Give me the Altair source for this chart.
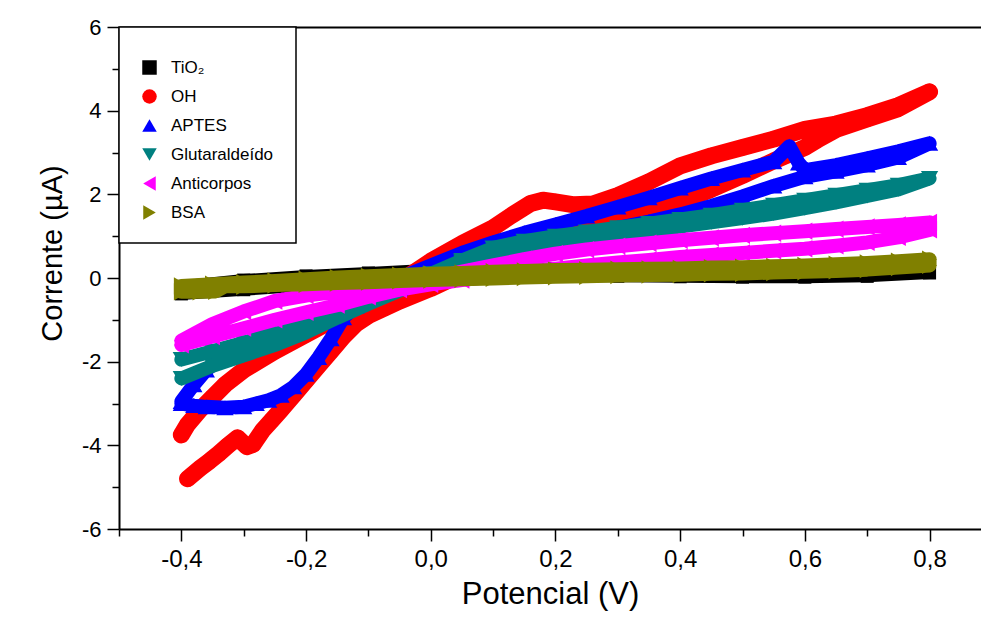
import altair as alt
import pandas as pd

FONT = "Liberation Sans"

series_names = ["TiO₂", "OH", "APTES", "Glutaraldeído", "Anticorpos", "BSA"]
series_colors = ["#000000", "#ff0000", "#0000ff", "#008080", "#ff00ff", "#808000"]
series_shapes = ["square", "circle", "triangle-up", "triangle-down", "triangle-left", "triangle-right"]

# ---- TiO2 (black squares) ----
tio2_x = [-0.4, -0.3, -0.2, -0.1, 0.0, 0.1, 0.2, 0.3, 0.4, 0.5, 0.6, 0.7, 0.8,
          0.7, 0.6, 0.5, 0.4, 0.3, 0.2, 0.1, 0.0, -0.1, -0.2, -0.3, -0.4]
tio2_y = [-0.38, -0.28, -0.18, -0.08, 0.0, 0.03, 0.04, 0.04, 0.03, 0.02, 0.02, 0.04, 0.12,
          0.16, 0.17, 0.18, 0.19, 0.2, 0.22, 0.23, 0.2, 0.12, 0.05, -0.05, -0.2]

# ---- OH (red circles) ----
oh_x = [-0.4, -0.39, -0.37, -0.35, -0.33, -0.3, -0.25, -0.2, -0.15, -0.1, -0.05, 0.0, 0.05, 0.1,
        0.13, 0.16, 0.18, 0.2, 0.23, 0.26, 0.3, 0.35, 0.4, 0.45, 0.5, 0.55, 0.6, 0.65, 0.7, 0.75, 0.8,
        0.75, 0.7, 0.65, 0.62, 0.6, 0.55, 0.5, 0.45, 0.4, 0.35, 0.3, 0.25, 0.2, 0.15, 0.1, 0.05, 0.0,
        -0.05, -0.1, -0.12, -0.14, -0.16, -0.18, -0.2, -0.22, -0.24, -0.255, -0.27, -0.285, -0.295,
        -0.31, -0.325, -0.34, -0.355, -0.37, -0.39]
oh_y = [-3.75, -3.5, -3.15, -2.85, -2.55, -2.2, -1.75, -1.35, -0.95, -0.55, -0.1, 0.4, 0.82, 1.2,
        1.5, 1.78, 1.86, 1.82, 1.75, 1.77, 1.97, 2.3, 2.68, 2.92, 3.12, 3.32, 3.55, 3.68, 3.88, 4.12, 4.45,
        4.05, 3.8, 3.55, 3.3, 3.12, 2.8, 2.45, 2.12, 1.82, 1.58, 1.38, 1.15, 0.92, 0.68, 0.4, 0.1, -0.25,
        -0.55, -0.9, -1.1, -1.4, -1.75, -2.1, -2.45, -2.8, -3.15, -3.4, -3.65, -3.98, -4.03,
        -3.82, -4.0, -4.2, -4.38, -4.55, -4.8]

# ---- APTES (blue up triangles) ----
aptes_x = [-0.4, -0.38, -0.36, -0.33, -0.3, -0.25, -0.2, -0.15, -0.1, -0.05, 0.0, 0.05, 0.1, 0.15,
           0.2, 0.25, 0.3, 0.35, 0.4, 0.45, 0.5, 0.55, 0.575, 0.59, 0.6, 0.65, 0.7, 0.75, 0.8,
           0.75, 0.7, 0.65, 0.6, 0.55, 0.5, 0.45, 0.4, 0.35, 0.3, 0.25, 0.2, 0.15, 0.1, 0.05, 0.0,
           -0.05, -0.1, -0.12, -0.14, -0.16, -0.18, -0.2, -0.22, -0.24, -0.26, -0.28, -0.3, -0.33,
           -0.36, -0.38, -0.4]
aptes_y = [-2.95, -2.55, -2.2, -1.85, -1.6, -1.3, -1.0, -0.68, -0.35, 0.0, 0.3, 0.6, 0.85, 1.08,
           1.28, 1.48, 1.7, 1.92, 2.15, 2.38, 2.58, 2.78, 3.15, 2.75, 2.58, 2.7, 2.86, 3.03, 3.22,
           2.88, 2.7, 2.55, 2.42, 2.2, 1.95, 1.72, 1.52, 1.35, 1.2, 1.05, 0.9, 0.72, 0.52, 0.28, 0.0,
           -0.25, -0.45, -0.67, -0.95, -1.45, -1.9, -2.3, -2.6, -2.8, -2.92, -3.0, -3.08, -3.1,
           -3.08, -3.05, -3.0]

# ---- Glutaraldeído (teal down triangles) ----
glut_x = [-0.4, -0.35, -0.3, -0.25, -0.2, -0.15, -0.1, -0.05, 0.0, 0.05, 0.1, 0.15, 0.2, 0.25,
          0.3, 0.35, 0.4, 0.45, 0.5, 0.55, 0.6, 0.65, 0.7, 0.75, 0.8,
          0.75, 0.7, 0.65, 0.6, 0.55, 0.5, 0.45, 0.4, 0.35, 0.3, 0.25, 0.2, 0.15, 0.1, 0.05, 0.0,
          -0.05, -0.1, -0.15, -0.2, -0.25, -0.3, -0.35, -0.4]
glut_y = [-1.95, -1.75, -1.55, -1.3, -1.05, -0.8, -0.5, -0.2, 0.1, 0.42, 0.72, 0.88, 1.0, 1.1,
          1.2, 1.3, 1.4, 1.5, 1.62, 1.74, 1.86, 1.98, 2.1, 2.22, 2.38,
          2.12, 1.96, 1.81, 1.67, 1.54, 1.43, 1.33, 1.23, 1.13, 1.03, 0.94, 0.86, 0.75, 0.62, 0.38, 0.05,
          -0.3, -0.62, -0.95, -1.3, -1.6, -1.85, -2.1, -2.4]

# ---- Anticorpos (magenta left triangles) ----
anti_x = [-0.4, -0.35, -0.3, -0.25, -0.2, -0.15, -0.1, -0.05, 0.0, 0.05, 0.1, 0.15, 0.2, 0.25,
          0.3, 0.35, 0.4, 0.45, 0.5, 0.55, 0.6, 0.65, 0.7, 0.75, 0.8,
          0.8, 0.75, 0.7, 0.65, 0.6, 0.55, 0.5, 0.45, 0.4, 0.35, 0.3, 0.25, 0.2, 0.15, 0.1, 0.05, 0.0,
          -0.05, -0.1, -0.15, -0.2, -0.25, -0.3, -0.35, -0.4]
anti_y = [-1.6, -1.4, -1.2, -1.0, -0.82, -0.65, -0.45, -0.28, -0.15, -0.05, 0.04, 0.13, 0.22, 0.3,
          0.37, 0.43, 0.5, 0.55, 0.6, 0.65, 0.7, 0.77, 0.85, 0.97, 1.15,
          1.33, 1.27, 1.22, 1.17, 1.12, 1.07, 1.02, 0.96, 0.9, 0.83, 0.76, 0.68, 0.58, 0.45, 0.3, 0.15, 0.0,
          -0.15, -0.26, -0.33, -0.42, -0.55, -0.8, -1.1, -1.5]

# ---- BSA (olive right triangles) ----
bsa_x = [-0.4, -0.37, -0.345, -0.33, -0.3, -0.25, -0.2, -0.15, -0.1, -0.05, 0.0, 0.05, 0.1, 0.15,
         0.2, 0.25, 0.3, 0.35, 0.4, 0.45, 0.5, 0.55, 0.6, 0.65, 0.7, 0.75, 0.8,
         0.8, 0.75, 0.7, 0.65, 0.6, 0.55, 0.5, 0.45, 0.4, 0.35, 0.3, 0.25, 0.2, 0.15, 0.1, 0.05, 0.0,
         -0.05, -0.1, -0.15, -0.2, -0.25, -0.3, -0.35, -0.4]
bsa_y = [-0.33, -0.33, -0.32, -0.2, -0.2, -0.17, -0.15, -0.12, -0.1, -0.07, -0.05, -0.03, -0.01, 0.01,
         0.03, 0.04, 0.06, 0.07, 0.08, 0.1, 0.11, 0.13, 0.15, 0.17, 0.2, 0.25, 0.3,
         0.45, 0.4, 0.36, 0.33, 0.3, 0.28, 0.26, 0.25, 0.23, 0.22, 0.21, 0.2, 0.19, 0.17, 0.15, 0.12, 0.1,
         0.07, 0.04, 0.01, -0.03, -0.07, -0.11, -0.15, -0.19]

series_x = [tio2_x, oh_x, aptes_x, glut_x, anti_x, bsa_x]
series_y = [tio2_y, oh_y, aptes_y, glut_y, anti_y, bsa_y]
point_sizes = [170, 260, 300, 300, 300, 300]
line_widths = [12, 17, 14, 14, 14, 14]

x_ticks = [round(-0.5 + 0.1 * k, 1) for k in range(14)]
y_ticks = list(range(-6, 7))

xscale = alt.Scale(domain=[-0.5, 0.8825], nice=False, zero=False)
yscale = alt.Scale(domain=[-6, 6], nice=False, zero=False)

even_x = "abs(round(datum.value*10)) % 2 == 0"
x_axis = alt.Axis(
    orient="bottom", values=x_ticks, grid=False,
    labelExpr=f"({even_x}) ? ((datum.value < 0 ? '-' : '') + replace(format(abs(datum.value), '.1f'), '.', ',')) : ''",
    tickSize={"condition": {"test": even_x, "value": 12}, "value": 7},
    tickWidth=1.5, tickColor="black", domainColor="black", domainWidth=2,
    labelFont=FONT, labelFontSize=24, labelColor="black", labelPadding=6,
    labelOverlap=False, labelFlush=False,
    title="Potencial (V)", titleFont=FONT, titleFontSize=31, titleFontWeight="normal",
    titleColor="black", titlePadding=8,
)
y_axis = alt.Axis(
    orient="left", values=y_ticks, grid=False,
    labelExpr="(datum.value % 2 == 0) ? ((datum.value < 0 ? '-' : '') + abs(datum.value)) : ''",
    tickSize={"condition": {"test": "datum.value % 2 == 0", "value": 12}, "value": 7},
    tickWidth=1.5, tickColor="black", domainColor="black", domainWidth=2,
    labelFont=FONT, labelFontSize=22, labelColor="black", labelPadding=6,
    labelOverlap=False, labelFlush=False,
    title="Corrente (µA)", titleFont=FONT, titleFontSize=29, titleFontWeight="normal",
    titleColor="black", titlePadding=14, titleY=226,
)
top_axis = alt.Axis(orient="top", labels=False, ticks=False, domain=True, domainWidth=2,
                    domainColor="black", title=None, grid=False)

legend = alt.Legend(
    title=" ", titleFontSize=8, titlePadding=2, orient="none", legendX=0, legendY=0,
    labelFont=FONT, labelFontSize=17, labelColor="black",
    symbolSize=210, symbolStrokeWidth=0, labelOffset=13,
    padding=22, rowPadding=11, strokeColor="black", fillColor="white",
)

color_enc = alt.Color("serie:N", scale=alt.Scale(domain=series_names, range=series_colors), legend=legend)
shape_enc = alt.Shape("serie:N", scale=alt.Scale(domain=series_names, range=series_shapes), legend=legend)

layers = []
for i, name in enumerate(series_names):
    df = pd.DataFrame({
        "V": series_x[i],
        "I": series_y[i],
        "idx": list(range(len(series_x[i]))),
        "serie": name,
    })
    if i == 0:
        xl, yl = x_axis, y_axis
        xp = top_axis
    else:
        xl, yl, xp = None, None, None
    line = alt.Chart(df).mark_line(
        strokeWidth=line_widths[i], strokeCap="round", strokeJoin="round",
        color=series_colors[i],
    ).encode(
        x=alt.X("V:Q", scale=xscale, axis=xl),
        y=alt.Y("I:Q", scale=yscale, axis=yl),
        order=alt.Order("idx:Q"),
    )
    pts = alt.Chart(df).mark_point(
        filled=True, size=point_sizes[i], opacity=1, strokeWidth=0,
    ).encode(
        x=alt.X("V:Q", scale=xscale, axis=xp),
        y=alt.Y("I:Q", scale=yscale, axis=None),
        color=color_enc,
        shape=shape_enc,
    )
    layers += [line, pts]

chart = alt.layer(*layers).resolve_axis(x="independent", y="independent").properties(
    width=862, height=502,
    padding={"left": 119, "top": 27, "right": 0, "bottom": 99},
    autosize=alt.AutoSizeParams(type="none"),
    background="white",
).configure_view(stroke="transparent").configure_legend(strokeWidth=1.5)

chart.save("out.html", embed_options={"renderer": "svg", "actions": False})
